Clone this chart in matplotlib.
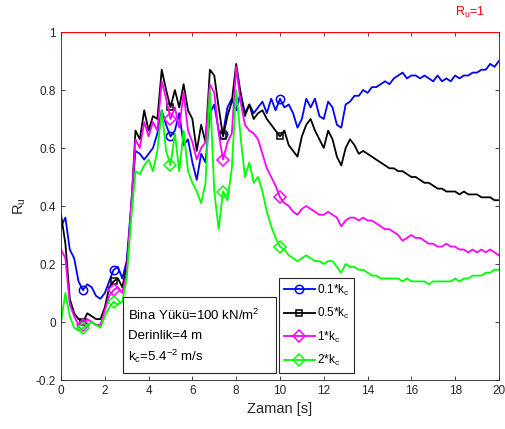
import matplotlib
matplotlib.use("Agg")
import matplotlib.pyplot as plt
import numpy as np
from matplotlib.patches import Rectangle

plt.rcParams['font.family'] = ['Liberation Sans', 'DejaVu Sans']
plt.rcParams['mathtext.fontset'] = 'custom'
plt.rcParams['mathtext.rm'] = 'Liberation Sans'
plt.rcParams['mathtext.it'] = 'Liberation Sans'

# time axis, 0.2 s step
t = np.round(np.arange(0, 20.01, 0.2), 1)

ru_01 = [0.33, 0.36, 0.25, 0.22, 0.14, 0.11, 0.13, 0.12, 0.09, 0.08,
         0.10, 0.14, 0.18, 0.19, 0.15, 0.21, 0.40, 0.59, 0.58, 0.56,
         0.58, 0.60, 0.65, 0.73, 0.68, 0.64, 0.66, 0.72, 0.61, 0.63,
         0.55, 0.49, 0.58, 0.55, 0.72, 0.75, 0.66, 0.65, 0.74, 0.77,
         0.73, 0.79, 0.72, 0.75, 0.72, 0.74, 0.76, 0.72, 0.77, 0.73,
         0.77, 0.74, 0.75, 0.72, 0.67, 0.70, 0.77, 0.74, 0.77, 0.71,
         0.70, 0.76, 0.74, 0.68, 0.67, 0.75, 0.76, 0.78, 0.78, 0.80,
         0.79, 0.81, 0.81, 0.82, 0.83, 0.82, 0.84, 0.85, 0.86, 0.84,
         0.85, 0.85, 0.84, 0.85, 0.84, 0.83, 0.85, 0.83, 0.84, 0.83,
         0.85, 0.84, 0.85, 0.85, 0.86, 0.86, 0.87, 0.87, 0.89, 0.88,
         0.90]

ru_05 = [0.37, 0.27, 0.08, 0.03, 0.01, 0.00, 0.03, 0.02, 0.01, 0.01,
         0.05, 0.12, 0.14, 0.15, 0.12, 0.19, 0.38, 0.66, 0.63, 0.73,
         0.66, 0.71, 0.70, 0.87, 0.80, 0.74, 0.80, 0.74, 0.82, 0.73,
         0.70, 0.59, 0.68, 0.62, 0.87, 0.85, 0.74, 0.64, 0.71, 0.76,
         0.89, 0.79, 0.71, 0.75, 0.70, 0.72, 0.73, 0.70, 0.68, 0.66,
         0.64, 0.66, 0.61, 0.59, 0.57, 0.64, 0.68, 0.70, 0.66, 0.63,
         0.60, 0.66, 0.63, 0.57, 0.54, 0.60, 0.63, 0.61, 0.58, 0.59,
         0.58, 0.57, 0.56, 0.55, 0.54, 0.53, 0.53, 0.52, 0.52, 0.51,
         0.50, 0.50, 0.49, 0.48, 0.48, 0.47, 0.46, 0.46, 0.45, 0.45,
         0.45, 0.44, 0.45, 0.44, 0.44, 0.44, 0.43, 0.43, 0.43, 0.42,
         0.42]

ru_1 = [0.25, 0.22, 0.06, 0.02, -0.01, -0.01, 0.01, 0.00, -0.01, -0.01,
        0.04, 0.09, 0.11, 0.12, 0.10, 0.17, 0.40, 0.63, 0.60, 0.69,
        0.64, 0.69, 0.66, 0.83, 0.77, 0.70, 0.74, 0.67, 0.79, 0.66,
        0.62, 0.56, 0.60, 0.62, 0.82, 0.79, 0.65, 0.56, 0.62, 0.65,
        0.88, 0.76, 0.68, 0.66, 0.65, 0.63, 0.58, 0.53, 0.50, 0.47,
        0.43, 0.41, 0.40, 0.38, 0.37, 0.39, 0.40, 0.39, 0.38, 0.37,
        0.37, 0.38, 0.37, 0.36, 0.33, 0.35, 0.36, 0.36, 0.35, 0.36,
        0.35, 0.35, 0.34, 0.33, 0.32, 0.32, 0.31, 0.30, 0.28, 0.29,
        0.30, 0.29, 0.29, 0.28, 0.27, 0.27, 0.26, 0.26, 0.27, 0.26,
        0.26, 0.25, 0.25, 0.24, 0.25, 0.24, 0.25, 0.24, 0.25, 0.24,
        0.23]

ru_2 = [0.00, 0.10, 0.02, -0.02, -0.03, -0.02, -0.01, 0.00, -0.01, -0.02,
        0.02, 0.05, 0.07, 0.06, 0.07, 0.15, 0.35, 0.52, 0.51, 0.54,
        0.56, 0.52, 0.59, 0.73, 0.59, 0.54, 0.65, 0.52, 0.66, 0.52,
        0.48, 0.45, 0.41, 0.48, 0.80, 0.45, 0.32, 0.45, 0.42, 0.53,
        0.80, 0.64, 0.50, 0.55, 0.48, 0.50, 0.45, 0.38, 0.33, 0.29,
        0.26, 0.25, 0.23, 0.22, 0.21, 0.22, 0.23, 0.22, 0.21, 0.21,
        0.20, 0.21, 0.21, 0.19, 0.17, 0.20, 0.19, 0.19, 0.18, 0.18,
        0.17, 0.16, 0.16, 0.15, 0.15, 0.15, 0.15, 0.15, 0.14, 0.15,
        0.14, 0.14, 0.14, 0.14, 0.13, 0.14, 0.14, 0.14, 0.14, 0.14,
        0.15, 0.14, 0.15, 0.15, 0.16, 0.16, 0.16, 0.17, 0.17, 0.18,
        0.18]

labels = ['0.1*k$_c$', '0.5*k$_c$', '1*k$_c$', '2*k$_c$']
colors = ['#0000ff', '#000000', '#ff00ff', '#00ff00']
markers = ['o', 's', 'D', 'D']
mark_idx = [5, 12, 25, 37, 50]

fig = plt.figure(figsize=(5.06, 4.29), dpi=100)
ax = fig.add_axes([0.1206, 0.1142, 0.8654, 0.8112])

for y, lab, c, m in zip([ru_01, ru_05, ru_1, ru_2], labels, colors, markers):
    ax.plot(t, y, color=c, lw=1.3, marker=m, markevery=mark_idx,
            markersize=6 if m != 's' else 5, markerfacecolor='none',
            markeredgewidth=1.1, label=lab)

# Ru = 1 limit
ax.axhline(1.0, color='#ff0000', lw=1.6, zorder=5)
ax.text(18.0, 1.055, 'R$_u$=1', color='#ff0000', fontsize=9, clip_on=False)

ax.set_xlim(0, 20)
ax.set_ylim(-0.2, 1.0)
ax.set_xticks(np.arange(0, 21, 2))
ax.set_yticks([-0.2, 0, 0.2, 0.4, 0.6, 0.8, 1.0])
ax.set_yticklabels(['-0.2', '0', '0.2', '0.4', '0.6', '0.8', '1'])
ax.tick_params(direction='in', top=True, right=True, length=3,
               labelsize=8.5, colors='#262626', width=0.6)
for s in ax.spines.values():
    s.set_color('#262626')
    s.set_linewidth(0.6)
ax.set_xlabel('Zaman [s]', fontsize=10.5, color='#262626', labelpad=4)
ax.set_ylabel('R$_u$', fontsize=10.5, color='#262626', labelpad=6)

leg = ax.legend(loc='lower left', bbox_to_anchor=(0.498, 0.02), fontsize=8.5,
                handlelength=2.6, handletextpad=0.2, borderpad=0.4,
                labelspacing=0.72, fancybox=False, edgecolor='#262626',
                framealpha=1, borderaxespad=0)
leg.get_frame().set_linewidth(0.8)

# info box
ax.add_patch(Rectangle((0.1416, 0.02), 0.35, 0.219, transform=ax.transAxes,
                       facecolor='white', edgecolor='#262626', lw=0.8, zorder=6))
info = ['Bina Yükü=100 kN/m$^2$', 'Derinlik=4 m', 'k$_c$=5.4$^{-2}$ m/s']
for i, s in enumerate(info):
    ax.text(0.152, 0.185 - i * 0.058, s, transform=ax.transAxes,
            fontsize=9.5, va='center', zorder=7)

fig.savefig('out.png', dpi=100)
